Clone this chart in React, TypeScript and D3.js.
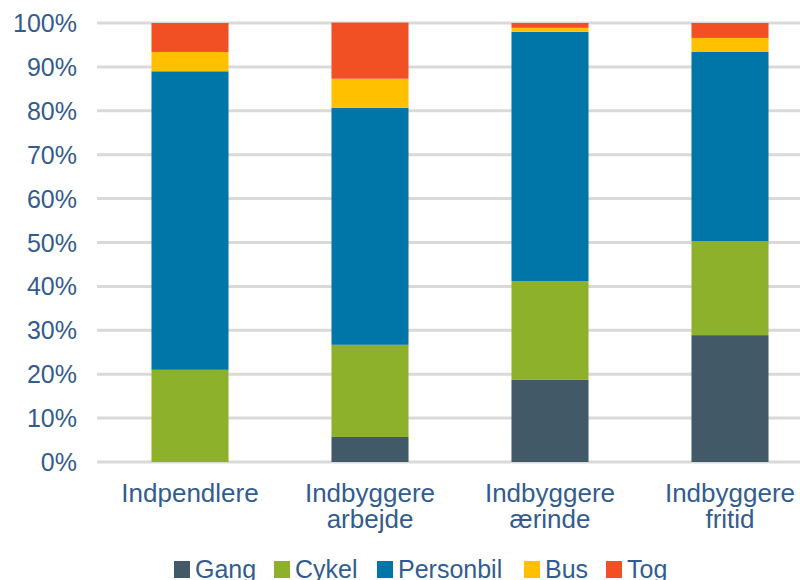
import React, { useEffect, useRef } from 'react';
import * as d3 from 'd3';

// category labels (two lines each)
const categories = ['Indpendlere', 'Indbyggere arbejde', 'Indbyggere ærinde', 'Indbyggere fritid'];
const categoryLines = [['Indpendlere'], ['Indbyggere', 'arbejde'], ['Indbyggere', 'ærinde'], ['Indbyggere', 'fritid']];

const seriesNames = ['Gang', 'Cykel', 'Personbil', 'Bus', 'Tog'];
const gang = [0, 5.7, 18.7, 28.9];
const cykel = [21, 21, 22.5, 21.4];
const personbil = [68, 54, 56.8, 43.1];
const bus = [4.4, 6.6, 0.9, 3.2];
const tog = [6.6, 12.8, 1.1, 3.4];

const yTicks = [0, 10, 20, 30, 40, 50, 60, 70, 80, 90, 100];

const colors = ['#425968', '#8EB12C', '#0075A7', '#FFC000', '#F15025'];
const textColor = '#335C8E';

export default function App() {
  const ref = useRef<SVGSVGElement>(null);

  useEffect(() => {
    const width = 800;
    const height = 580;
    const svg = d3.select(ref.current);
    svg.selectAll('*').remove();

    const rows = categories.map((c, i) => ({
      cat: c,
      Gang: gang[i],
      Cykel: cykel[i],
      Personbil: personbil[i],
      Bus: bus[i],
      Tog: tog[i],
    }));

    const stacked = d3.stack<any>().keys(seriesNames)(rows);

    const x = d3.scaleBand().domain(categories).range([100, 820]).paddingInner(0.572).paddingOuter(0.286);
    const y = d3.scaleLinear().domain([0, 100]).range([462, 23]);

    // gridlines
    svg.append('g')
      .selectAll('line')
      .data(yTicks)
      .join('line')
      .attr('x1', 97)
      .attr('x2', width)
      .attr('y1', d => y(d))
      .attr('y2', d => y(d))
      .attr('stroke', '#D9D9D9')
      .attr('stroke-width', 3);

    const font = 'Liberation Sans, Arial, sans-serif';

    // y tick labels
    svg.append('g')
      .selectAll('text')
      .data(yTicks)
      .join('text')
      .attr('x', 77)
      .attr('y', d => y(d))
      .attr('dy', '0.36em')
      .attr('text-anchor', 'end')
      .attr('font-family', font)
      .attr('font-size', 25)
      .attr('fill', textColor)
      .text(d => d + '%');

    // bars
    svg.append('g')
      .selectAll('g')
      .data(stacked)
      .join('g')
      .attr('fill', (_d, i) => colors[i])
      .selectAll('rect')
      .data(d => d)
      .join('rect')
      .attr('x', d => x(d.data.cat)!)
      .attr('width', x.bandwidth())
      .attr('y', d => y(d[1]))
      .attr('height', d => y(d[0]) - y(d[1]));

    // category labels
    const cl = svg.append('g')
      .selectAll('text')
      .data(categories)
      .join('text')
      .attr('x', d => x(d)! + x.bandwidth() / 2)
      .attr('y', 502)
      .attr('text-anchor', 'middle')
      .attr('font-family', font)
      .attr('font-size', 26)
      .attr('fill', textColor);
    cl.selectAll('tspan')
      .data((_d, i) => categoryLines[i])
      .join('tspan')
      .attr('x', function () { return (this.parentNode as SVGTextElement).getAttribute('x'); })
      .attr('dy', (_d, i) => (i === 0 ? 0 : 26))
      .text(d => d);

    // legend
    const legendX = [174, 274, 377, 524, 606];
    const lg = svg.append('g')
      .selectAll('g')
      .data(seriesNames)
      .join('g')
      .attr('transform', (_d, i) => `translate(${legendX[i]},578)`);
    lg.append('rect')
      .attr('x', 0)
      .attr('y', -17)
      .attr('width', 16)
      .attr('height', 17)
      .attr('fill', (_d, i) => colors[i]);
    lg.append('text')
      .attr('x', 21)
      .attr('y', 0)
      .attr('font-family', font)
      .attr('font-size', 25)
      .attr('fill', textColor)
      .text(d => d);

    svg.attr('width', width).attr('height', height);
  }, []);

  return (
    <svg ref={ref} width={800} height={580} style={{ position: 'absolute', left: 0, top: 0, background: '#fff' }} />
  );
}
